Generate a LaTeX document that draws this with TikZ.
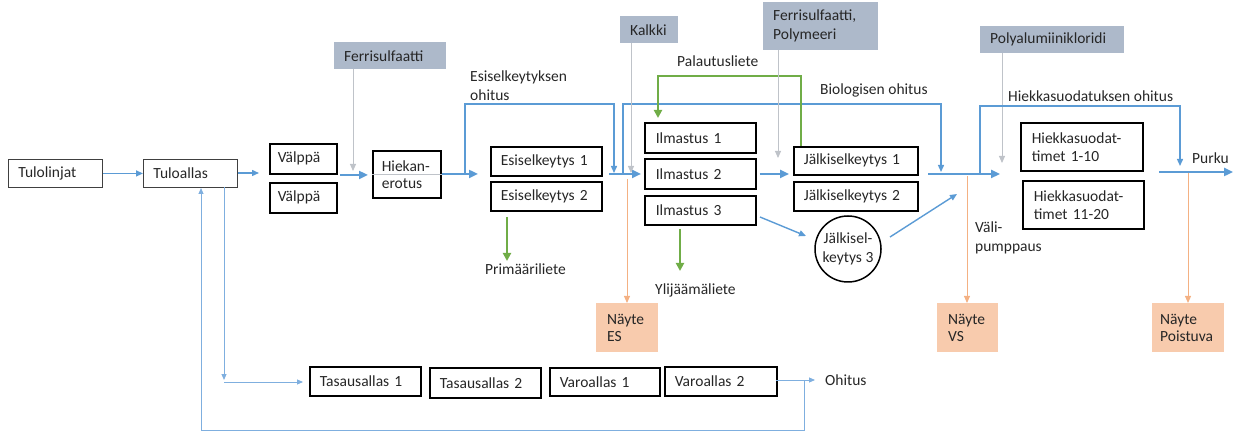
\documentclass[tikz,border=0pt]{standalone}
\usepackage{fontspec}
\setmainfont{Carlito}
\usetikzlibrary{arrows.meta}
\definecolor{blu}{HTML}{5B9BD5}
\definecolor{blul}{HTML}{7FAFDF}
\definecolor{grn}{HTML}{70AD47}
\definecolor{gry}{HTML}{ADB9CA}
\definecolor{gryline}{HTML}{BFC3C9}
\definecolor{org}{HTML}{F8CBAD}
\definecolor{orgline}{HTML}{F4B183}
\definecolor{txt}{HTML}{262626}
\begin{document}
\begin{tikzpicture}[x=1pt,y=-1pt,
  font=\fontsize{15.5}{19}\selectfont, text=txt,
  box/.style={draw=black, line width=1.6pt, anchor=north west, inner xsep=10pt, inner ysep=0pt, align=left},
  thinbox/.style={box, line width=0.9pt, draw=black!75},
  graybox/.style={fill=gry, anchor=north west, inner xsep=10pt, inner ysep=0pt, align=left},
  orgbox/.style={fill=org, anchor=north west, inner xsep=10pt, inner ysep=0pt, align=left},
  lbl/.style={anchor=west, inner sep=0pt, align=left},
  arr/.style={draw=blu, line width=1.4pt, -{Triangle[length=7pt,width=6pt]}},
  arrT/.style={draw=blu, line width=2.4pt, -{Triangle[length=9pt,width=8pt]}},
  arrL/.style={draw=blul, line width=1pt, -{Triangle[length=6pt,width=5pt]}},
  garr/.style={draw=gryline, line width=1pt, -{Triangle[length=7pt,width=6pt]}},
  oarr/.style={draw=orgline, line width=1pt, -{Triangle[length=7pt,width=6pt]}},
  gnarr/.style={draw=grn, line width=2.2pt, -{Triangle[length=8pt,width=8pt]}}
]
\useasboundingbox (0,0) rectangle (1239,435);

% ---------- process boxes ----------
\node[thinbox, minimum width=94pt, minimum height=28pt, text width=74pt] (tulolinjat) at (8,159) {Tulolinjat};
\node[thinbox, minimum width=94pt, minimum height=28pt, text width=74pt] (tuloallas) at (143,159) {Tuloallas};
\node[box, minimum width=67pt, minimum height=30pt, text width=51pt, inner xsep=8pt] (valppa1) at (269,143) {Välppä};
\node[box, minimum width=67pt, minimum height=30pt, text width=51pt, inner xsep=8pt] (valppa2) at (269,182) {Välppä};
\node[box, minimum width=68pt, minimum height=47pt, text width=56pt, inner xsep=6pt, font=\fontsize{15.5}{17}\selectfont] (hiekan) at (372,150) {\hspace*{3pt}Hiekan-\\\hspace*{3pt}erotus};
\node[box, minimum width=111pt, minimum height=29pt, text width=91pt] (esi1) at (490,146) {Esiselkeytys 1};
\node[box, minimum width=111pt, minimum height=29pt, text width=91pt] (esi2) at (490,181) {Esiselkeytys 2};
\node[box, minimum width=111pt, minimum height=30pt, text width=89pt, inner xsep=11pt] (ilm1) at (644,122) {Ilmastus 1};
\node[box, minimum width=111pt, minimum height=30pt, text width=89pt, inner xsep=11pt] (ilm2) at (644,158) {Ilmastus 2};
\node[box, minimum width=111pt, minimum height=29pt, text width=89pt, inner xsep=11pt] (ilm3) at (644,195) {Ilmastus 3};
\node[box, minimum width=124pt, minimum height=28pt, text width=104pt] (jalk1) at (793,146) {Jälkiselkeytys 1};
\node[box, minimum width=124pt, minimum height=29pt, text width=104pt] (jalk2) at (793,181) {Jälkiselkeytys 2};
\node[circle, draw=black, line width=1.5pt, minimum size=66pt, inner sep=0pt, align=center] (jalk3) at (848,249) {Jälkisel-\\keytys 3};
\node[box, minimum width=122pt, minimum height=48pt, text width=100pt, inner xsep=11pt, font=\fontsize{15.5}{18}\selectfont] (hs1) at (1020,122) {Hiekkasuodat-\\timet 1-10};
\node[box, minimum width=121pt, minimum height=48pt, text width=99pt, inner xsep=11pt, font=\fontsize{15.5}{18}\selectfont] (hs2) at (1022,180) {Hiekkasuodat-\\timet 11-20};
\node[box, minimum width=111pt, minimum height=29pt, text width=91pt] (tas1) at (309,366) {Tasausallas 1};
\node[box, minimum width=111pt, minimum height=30pt, text width=91pt] (tas2) at (429,367) {Tasausallas 2};
\node[box, minimum width=110pt, minimum height=28pt, text width=90pt] (var1) at (549,367) {Varoallas 1};
\node[box, minimum width=112pt, minimum height=29pt, text width=92pt] (var2) at (664,366) {Varoallas 2};

% line through Hiekan-erotus
\draw[draw=gryline, line width=1pt] (hiekan.west) -- (hiekan.east);

% ---------- chemical boxes ----------
\node[graybox, minimum width=112pt, minimum height=27pt, text width=92pt] (ferri) at (334,42) {Ferrisulfaatti};
\node[graybox, minimum width=58pt, minimum height=27pt, text width=38pt] (kalkki) at (620,16) {Kalkki};
\node[graybox, minimum width=115pt, minimum height=48pt, text width=95pt, font=\fontsize{15.5}{19}\selectfont] (ferripoly) at (763,2) {Ferrisulfaatti,\\Polymeeri};
\node[graybox, minimum width=144pt, minimum height=27pt, text width=124pt] (pac) at (980,26) {Polyalumiinikloridi};

% ---------- sample boxes ----------
\node[orgbox, minimum width=61pt, minimum height=49pt, text width=40pt, inner xsep=11pt, font=\fontsize{15.5}{17}\selectfont] (nes) at (596,303) {Näyte\\ES};
\node[orgbox, minimum width=60pt, minimum height=49pt, text width=39pt, inner xsep=11pt, font=\fontsize{15.5}{17}\selectfont] (nvs) at (937,303) {Näyte\\VS};
\node[orgbox, minimum width=72pt, minimum height=49pt, text width=56pt, inner xsep=8pt, font=\fontsize{15.5}{17}\selectfont] (npo) at (1152,303) {Näyte\\Poistuva};

% ---------- labels ----------
\node[lbl] (l_esiohitus) at (470,86) {Esiselkeytyksen\\ohitus};
\node[lbl] (l_palaut) at (677,61) {Palautusliete};
\node[lbl] (l_bio) at (820,90) {Biologisen ohitus};
\node[lbl] (l_hiekohitus) at (1008,96) {Hiekkasuodatuksen ohitus};
\node[lbl] (l_purku) at (1192,158) {Purku};
\node[lbl] (l_vali) at (975,238) {Väli-\\pumppaus};
\node[lbl] (l_prim) at (485,269) {Primääriliete};
\node[lbl] (l_ylij) at (655,290) {Ylijäämäliete};
\node[lbl] (l_ohitus) at (825,380) {Ohitus};

% ---------- coordinates ----------
\coordinate (a1) at (259,173);
\coordinate (v1) at (340,175);
\coordinate (v2) at (368,175);
\coordinate (gf) at (353,171);
\coordinate (h1) at (478,174);
\coordinate (b1) at (465,174);
\coordinate (m1) at (614,173);
\coordinate (m0) at (609,174);
\coordinate (m2) at (641,174);
\coordinate (gk) at (631,173);
\coordinate (oes) at (627,179);
\coordinate (bio0) at (623,174);
\coordinate (bio1) at (941,172);
\coordinate (pal0) at (801,146);
\coordinate (pal1) at (658,118);
\coordinate (pr0) at (507,217);
\coordinate (pr1) at (507,261);
\coordinate (yl0) at (680,229);
\coordinate (yl1) at (680,271);
\coordinate (j1) at (789,174);
\coordinate (i3) at (760,217);
\coordinate (c0) at (806,236);
\coordinate (c1) at (890,237);
\coordinate (c2) at (957,194);
\coordinate (s0) at (928,174);
\coordinate (s1) at (1000,174);
\coordinate (gfp) at (778,158);
\coordinate (gp) at (1002,163);
\coordinate (hb0) at (980,174);
\coordinate (hb1) at (1180,166);
\coordinate (p0) at (1159,172);
\coordinate (p1) at (1233,172);
\coordinate (ovs) at (967,176);
\coordinate (opo) at (1188,173);
\coordinate (d0) at (224,187);
\coordinate (d1) at (224,380);
\coordinate (d2) at (224,382);
\coordinate (t1) at (303,382);
\coordinate (o0) at (776,380);
\coordinate (o1) at (815,380);
\coordinate (r0) at (804,380);
\coordinate (r1) at (201,188);

% ---------- connectors ----------
\draw[arr] (tulolinjat.east) -- (tuloallas.west);
\draw[arr] (tuloallas.east |- a1) -- (a1);
\draw[arrT] (v1) -- (v2);
\draw[garr] (gf |- ferri.south) -- (gf);
\draw[arrT] (hiekan.east |- h1) -- (h1);
\draw[arr] (b1) -- (465,104) -- (614,104) -- (m1);
\draw[arr] (bio0) -- (623,104) -- (941,104) -- (bio1);
\draw[arrT] (m0) -- (m2);
\draw[garr] (gk |- kalkki.south) -- (gk);
\draw[oarr] (oes) -- (nes.north -| oes);
\draw[gnarr] (pal0) -- (801,76) -- (658,76) -- (pal1);
\draw[gnarr] (pr0) -- (pr1);
\draw[gnarr] (yl0) -- (yl1);
\draw[arrT] (ilm2.east |- j1) ++(3,0) -- (j1);
\draw[arr] (i3) -- (c0);
\draw[arr] (c1) -- (c2);
\draw[garr] (gfp |- ferripoly.south) -- (gfp);
\draw[arrT] (s0) -- (s1);
\draw[garr] (gp |- pac.south) -- (gp);
\draw[arr] (hb0) -- (980,106) -- (1180,106) -- (hb1);
\draw[arrT] (p0) -- (p1);
\draw[oarr] (ovs) -- (nvs.north -| ovs);
\draw[oarr] (opo) -- (npo.north -| opo);
\draw[arrL] (d0) -- (d1);
\draw[arrL] (d2) -- (t1);
\draw[arrL] (o0) -- (o1);
\draw[arrL] (r0) -- (804,430) -- (201,430) -- (r1);
\end{tikzpicture}
\end{document}
